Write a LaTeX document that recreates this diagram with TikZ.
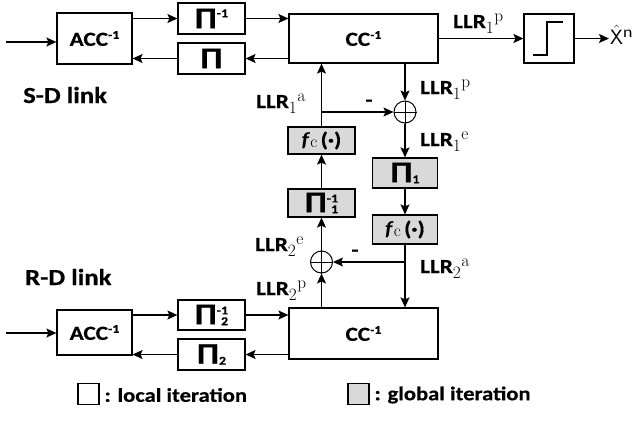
\documentclass[tikz,border=0pt]{standalone}
\usepackage[no-math]{fontspec}
\setmainfont{Carlito}[FakeStretch=1.16, BoldFeatures={FakeBold=0.5}]
\usetikzlibrary{arrows.meta}
\newcommand\fsz[1]{\fontsize{#1}{#1}\selectfont}
\newcommand\supm[1]{\raisebox{7pt}{\fsz{12}#1}}
\newcommand\PiA{{\fsz{30}Π}}
\newcommand\pisup[1]{\raisebox{11pt}{\fsz{12}#1}}
\newcommand\pisub[1]{\raisebox{-1pt}{\fsz{12}#1}}
\newcommand\pisupsub[2]{\raisebox{-1pt}{\fsz{12}\shortstack[r]{#1\\#2}}}
\newcommand\fcx{\textbf{\textit{f}}\raisebox{-1pt}{\fsz{16}$\mathrm{c}$}\,(·)}
\newcommand\llr[2]{{\fsz{20}\textbf{LLR}}{\fsz{18}$_{\textstyle #1}{}^{\textstyle\mathrm{#2}}$}}
\tikzset{
  box/.style={draw, line width=1.2pt, inner sep=0pt, fill=white},
  gbox/.style={box, fill=gray!30},
  arr/.style={line width=1.2pt, -{Stealth[length=10pt,width=9pt,inset=2pt]}},
  sumc/.style={circle, draw, line width=1pt, minimum size=22pt, inner sep=0pt},
  crossl/.style={line width=1pt},
  lbl/.style={anchor=base west, inner sep=0pt},
}
\begin{document}
\begin{tikzpicture}[x=1pt,y=-1pt,font=\bfseries\fsz{20}]
\useasboundingbox (0,0) rectangle (640,424);
% top row
\node[box, minimum width=75pt, minimum height=51pt] (accT) at (94.5,38.5) {ACC\supm{-1}};
\node[box, minimum width=67pt, minimum height=31pt] (piiT) at (211.5,18.5) {\PiA\pisup{-1}};
\node[box, minimum width=67pt, minimum height=31pt] (piT) at (211.5,58.5) {\PiA};
\node[box, minimum width=149pt, minimum height=49pt] (ccT) at (363.5,38.5) {CC\supm{-1}};
\node[box, minimum width=50pt, minimum height=49pt] (stp) at (549,38.5) {};
\draw[line width=1.2pt] (533,55) -- (547,55) -- (547,22) -- (563,22);
\node[anchor=west, inner sep=1pt, font=\mdseries\fsz{22}] (xh) at (609,35) {$\hat{\mathsf{X}}$\textsuperscript{n}};
% middle
\node[gbox, minimum width=67pt, minimum height=27pt] (fcL) at (321.5,140.5) {\fcx};
\node[gbox, minimum width=67pt, minimum height=28pt] (pii1) at (321.5,203) {\PiA\pisupsub{-1}{1}};
\node[gbox, minimum width=65pt, minimum height=30pt] (pi1) at (405,173) {\PiA\pisub{1}};
\node[gbox, minimum width=65pt, minimum height=29pt] (fcR) at (405,229.5) {\fcx};
\node[sumc] (sT) at (405,112) {};
\node[sumc] (sB) at (321.5,262) {};
% bottom row
\node[box, minimum width=75pt, minimum height=45pt] (accB) at (94.5,332.5) {ACC\supm{-1}};
\node[box, minimum width=67pt, minimum height=30pt] (pii2) at (211.5,315) {\PiA\pisupsub{-1}{2}};
\node[box, minimum width=67pt, minimum height=31pt] (pi2) at (211.5,354.5) {\PiA\pisub{2}};
\node[box, minimum width=149pt, minimum height=51pt] (ccB) at (363.5,333.5) {CC\supm{-1}};
% crosses in sums
\draw[crossl] (sT.north) -- (sT.south) (sT.west) -- (sT.east);
\draw[crossl] (sB.north) -- (sB.south) (sB.west) -- (sB.east);
% top connectors
\coordinate (inT) at (6,42);
\draw[arr] (inT) -- (inT -| accT.west);
\draw[arr] (accT.east |- piiT) -- (piiT.west);
\draw[arr] (piiT.east) -- (piiT.east -| ccT.west);
\draw[arr] (ccT.west |- piT) -- (piT.east);
\draw[arr] (piT.west) -- (piT.west -| accT.east);
\draw[arr] (ccT.east) -- (stp.west);
\draw[arr] (stp.east) -- (stp.east -| xh.west);
% middle connectors
\draw[arr] (ccT.south -| sT) -- (sT.north);
\draw[arr] (fcL.north) -- (fcL.north |- ccT.south);
\coordinate (b1) at (fcL.north |- sT.west);
\draw[arr] (b1) -- (sT.west);
\draw[arr] (sT.south) -- (pi1.north);
\draw[arr] (pi1.south) -- (fcR.north);
\draw[arr] (fcR.south) -- (fcR.south |- ccB.north);
\coordinate (b2) at (fcR.south |- sB.east);
\draw[arr] (b2) -- (sB.east);
\draw[arr] (sB.south |- ccB.north) -- (sB.south);
\draw[arr] (sB.north) -- (pii1.south);
\draw[arr] (pii1.north) -- (fcL.south);
% bottom connectors
\coordinate (inB) at (6,333);
\draw[arr] (inB) -- (inB -| accB.west);
\draw[arr] (accB.east |- pii2) -- (pii2.west);
\draw[arr] (pii2.east) -- (pii2.east -| ccB.west);
\draw[arr] (ccB.west |- pi2) -- (pi2.east);
\draw[arr] (pi2.west) -- (pi2.west -| accB.east);
% labels
\node[lbl, font=\bfseries\fsz{23}] (sd) at (23,103) {S-D link};
\node[lbl, font=\bfseries\fsz{23}] (rd) at (25,285) {R-D link};
\node[lbl] (l1) at (453,28) {\llr{1}{p}};
\node[lbl] (l2) at (420,94) {\llr{1}{p}};
\node[lbl] (l3) at (256,108) {\llr{1}{a}};
\node[lbl] (l4) at (420,146) {\llr{1}{e}};
\node[lbl] (l5) at (255,251) {\llr{2}{e}};
\node[lbl] (l6) at (420,273) {\llr{2}{a}};
\node[lbl] (l7) at (256,295) {\llr{2}{p}};
\node (m1) at (369,103) {-};
\node (m2) at (355,253) {-};
% legend
\node[box, minimum size=21pt] (lgw) at (88.5,394) {};
\node[anchor=west, font=\bfseries\fsz{19.5}] (lgwt) at (101,395) {: local iteration};
\node[gbox, minimum size=21pt] (lgg) at (358.5,394) {};
\node[anchor=west, font=\bfseries\fsz{19.5}] (lggt) at (371,395) {: global iteration};
\end{tikzpicture}
\end{document}
